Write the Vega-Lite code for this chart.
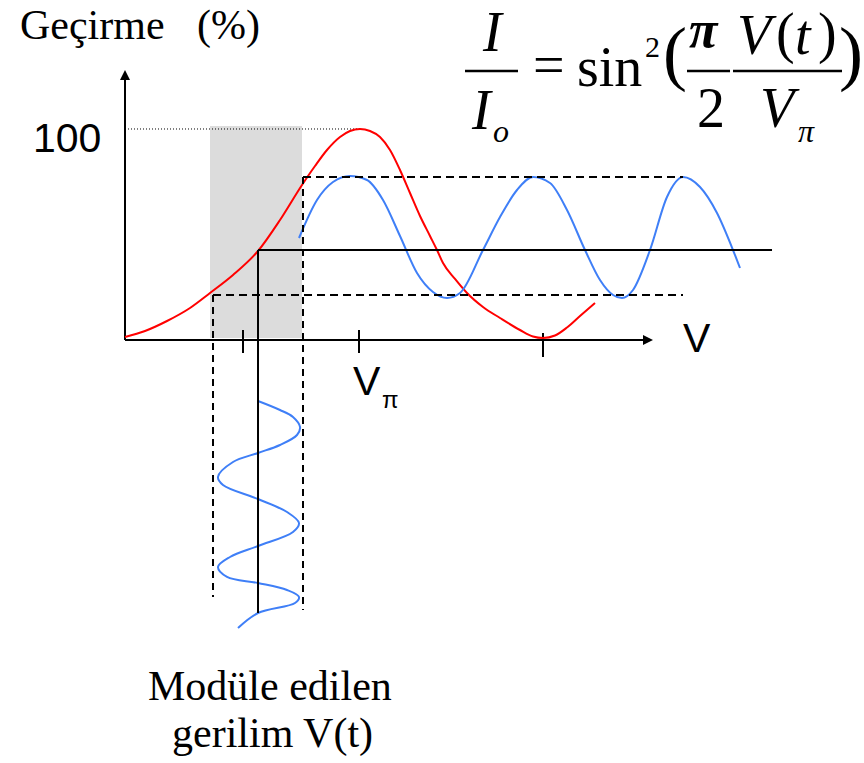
{
  "$schema": "https://vega.github.io/schema/vega-lite/v6.json",
  "width": 864,
  "height": 763,
  "autosize": {"type": "none"},
  "padding": 0,
  "background": "white",
  "config": {"view": {"stroke": null}},
  "datasets": {
    "transfer": [
      {"v": 0, "t": 1.42}, {"v": 0.855, "t": 4.27}, {"v": 1.795, "t": 9.0}, {"v": 2.778, "t": 15.17},
      {"v": 3.632, "t": 22.27}, {"v": 4.615, "t": 30.81}, {"v": 5.684, "t": 42.18}, {"v": 6.624, "t": 56.87},
      {"v": 7.564, "t": 73.46}, {"v": 8.12, "t": 82.46}, {"v": 8.632, "t": 90.05}, {"v": 9.188, "t": 96.21},
      {"v": 9.615, "t": 99.05}, {"v": 10.043, "t": 100}, {"v": 10.47, "t": 99.05}, {"v": 10.897, "t": 96.21},
      {"v": 11.325, "t": 90.05}, {"v": 11.752, "t": 80.57}, {"v": 12.179, "t": 69.67}, {"v": 12.607, "t": 58.77},
      {"v": 13.034, "t": 49.29}, {"v": 13.333, "t": 42.65}, {"v": 13.59, "t": 36.49}, {"v": 14.103, "t": 28.91},
      {"v": 14.615, "t": 22.27}, {"v": 15.299, "t": 15.64}, {"v": 16.026, "t": 10.43}, {"v": 16.88, "t": 4.74},
      {"v": 17.436, "t": 1.66}, {"v": 17.863, "t": 0.95}, {"v": 18.376, "t": 2.13}, {"v": 18.889, "t": 5.92},
      {"v": 19.444, "t": 11.37}, {"v": 20.085, "t": 17.54}
    ],
    "output": [
      {"v": 7.436, "t": 48.34}, {"v": 8.205, "t": 66.35}, {"v": 8.889, "t": 74.88}, {"v": 9.615, "t": 77.73},
      {"v": 10.342, "t": 75.83}, {"v": 11.026, "t": 66.35}, {"v": 11.752, "t": 49.29}, {"v": 12.479, "t": 31.75},
      {"v": 13.162, "t": 22.75}, {"v": 13.761, "t": 19.91}, {"v": 14.316, "t": 22.27}, {"v": 15.299, "t": 42.65},
      {"v": 16.026, "t": 58.29}, {"v": 16.752, "t": 71.09}, {"v": 17.436, "t": 77.25}, {"v": 18.162, "t": 74.41},
      {"v": 18.889, "t": 61.61}, {"v": 19.658, "t": 42.65}, {"v": 20.299, "t": 28.44}, {"v": 20.855, "t": 21.33},
      {"v": 21.239, "t": 19.91}, {"v": 21.709, "t": 23.7}, {"v": 22.436, "t": 42.65}, {"v": 23.162, "t": 67.77},
      {"v": 23.846, "t": 77.25}, {"v": 24.573, "t": 72.51}, {"v": 25.299, "t": 60.19}, {"v": 25.983, "t": 42.65},
      {"v": 26.282, "t": 34.12}
    ],
    "input": [
      {"i": 1, "v": 5.684, "t": -28.91}, {"i": 2, "v": 6.624, "t": -33.18}, {"i": 3, "v": 7.179, "t": -36.49},
      {"i": 4, "v": 7.479, "t": -41.23}, {"i": 5, "v": 7.35, "t": -45.02}, {"i": 6, "v": 6.624, "t": -49.76},
      {"i": 7, "v": 5.684, "t": -53.55}, {"i": 8, "v": 4.615, "t": -57.82}, {"i": 9, "v": 3.974, "t": -64.93},
      {"i": 10, "v": 4.188, "t": -68.72}, {"i": 11, "v": 5.684, "t": -75.36}, {"i": 12, "v": 6.923, "t": -81.52},
      {"i": 13, "v": 7.436, "t": -86.73}, {"i": 14, "v": 7.179, "t": -91.0}, {"i": 15, "v": 5.684, "t": -97.63},
      {"i": 16, "v": 4.487, "t": -102.84}, {"i": 17, "v": 3.974, "t": -107.58}, {"i": 18, "v": 4.359, "t": -112.32},
      {"i": 19, "v": 5.684, "t": -115.17}, {"i": 20, "v": 6.923, "t": -118.48}, {"i": 21, "v": 7.436, "t": -121.8},
      {"i": 22, "v": 7.265, "t": -124.64}, {"i": 23, "v": 5.684, "t": -129.38}, {"i": 24, "v": 4.829, "t": -136.49}
    ]
  },
  "encoding": {
    "x": {"field": "v", "type": "quantitative", "scale": {"domain": [-5.342, 31.581], "nice": false, "zero": false}, "axis": null},
    "y": {"field": "t", "type": "quantitative", "scale": {"domain": [-200.474, 161.137], "nice": false, "zero": false}, "axis": null}
  },
  "layer": [
    {
      "data": {"values": [{"v": 3.632, "v2": 7.564, "t": 101.42, "t2": 0.95}]},
      "mark": {"type": "rect", "color": "#dcdcdc"},
      "encoding": {"x2": {"field": "v2"}, "y2": {"field": "t2"}}
    },
    {
      "data": {"values": [{"v": 0, "t": 100, "v2": 10.043, "t2": 100}]},
      "mark": {"type": "rule", "color": "black", "strokeWidth": 1, "strokeDash": [1, 2]},
      "encoding": {"x2": {"field": "v2"}, "y2": {"field": "t2"}}
    },
    {
      "data": {"values": [
        {"v": 0, "t": 0, "v2": 0, "t2": 123.22},
        {"v": 0, "t": 0, "v2": 22.137, "t2": 0},
        {"v": 5.043, "t": 4.74, "v2": 5.043, "t2": -6.16},
        {"v": 10.0, "t": 4.74, "v2": 10.0, "t2": -6.16},
        {"v": 17.863, "t": 3.32, "v2": 17.863, "t2": -8.06}
      ]},
      "mark": {"type": "rule", "color": "black", "strokeWidth": 2},
      "encoding": {"x2": {"field": "v2"}, "y2": {"field": "t2"}}
    },
    {
      "data": {"values": [{"v": 0, "t": 125.59}]},
      "mark": {"type": "point", "shape": "M0,-1L1,1L-1,1Z", "filled": true, "color": "black", "opacity": 1, "size": 100, "strokeWidth": 0}
    },
    {
      "data": {"values": [{"v": 22.35, "t": 0}]},
      "mark": {"type": "point", "shape": "M1,0L-1,-1L-1,1Z", "filled": true, "color": "black", "opacity": 1, "size": 100, "strokeWidth": 0}
    },
    {
      "data": {"name": "transfer"},
      "mark": {"type": "line", "color": "#ff0000", "strokeWidth": 2, "interpolate": "monotone"}
    },
    {
      "data": {"name": "output"},
      "mark": {"type": "line", "color": "#3f7ff7", "strokeWidth": 2, "interpolate": "monotone"}
    },
    {
      "data": {"name": "input"},
      "mark": {"type": "line", "color": "#3f7ff7", "strokeWidth": 2, "interpolate": "catmull-rom"},
      "encoding": {"order": {"field": "i", "type": "quantitative"}}
    },
    {
      "data": {"values": [
        {"v": 7.607, "t": 77.25, "v2": 23.846, "t2": 77.25},
        {"v": 3.761, "t": 21.33, "v2": 23.846, "t2": 21.33}
      ]},
      "mark": {"type": "rule", "color": "black", "strokeWidth": 2, "strokeDash": [8, 5]},
      "encoding": {"x2": {"field": "v2"}, "y2": {"field": "t2"}}
    },
    {
      "data": {"values": [
        {"v": 3.761, "t": 21.33, "v2": 3.761, "t2": -121.8},
        {"v": 7.607, "t": 77.25, "v2": 7.607, "t2": -127.96}
      ]},
      "mark": {"type": "rule", "color": "black", "strokeWidth": 2, "strokeDash": [7, 5]},
      "encoding": {"x2": {"field": "v2"}, "y2": {"field": "t2"}}
    },
    {
      "data": {"values": [
        {"v": 5.684, "t": 42.65, "v2": 27.65, "t2": 42.65},
        {"v": 5.684, "t": 42.65, "v2": 5.684, "t2": -129.38}
      ]},
      "mark": {"type": "rule", "color": "black", "strokeWidth": 2},
      "encoding": {"x2": {"field": "v2"}, "y2": {"field": "t2"}}
    },
    {
      "data": {"values": [
        {"label": "Geçirme", "v": -4.487, "t": 142.65},
        {"label": "(%)", "v": 3.077, "t": 142.65},
        {"label": "Modüle edilen", "v": 0.983, "t": -170.62},
        {"label": "gerilim V(t)", "v": 2.009, "t": -192.89}
      ]},
      "mark": {"type": "text", "font": "Liberation Serif", "fontSize": 42, "align": "left", "baseline": "alphabetic", "color": "black"},
      "encoding": {"text": {"field": "label"}}
    },
    {
      "data": {"values": [
        {"label": "100", "v": -3.932, "t": 89.1},
        {"label": "V", "v": 23.846, "t": -5.69},
        {"label": "V", "v": 9.744, "t": -26.07}
      ]},
      "mark": {"type": "text", "font": "Liberation Sans", "fontSize": 41, "align": "left", "baseline": "alphabetic", "color": "black"},
      "encoding": {"text": {"field": "label"}}
    },
    {
      "data": {"values": [{"label": "π", "v": 10.983, "t": -32.23}]},
      "mark": {"type": "text", "font": "Liberation Sans", "fontSize": 24, "align": "left", "baseline": "alphabetic", "color": "black"},
      "encoding": {"text": {"field": "label"}}
    },
    {
      "data": {"values": [
        {"label": "I", "v": 15.299, "t": 136.96},
        {"label": "I", "v": 14.829, "t": 100.0},
        {"label": "V", "v": 26.154, "t": 135.54},
        {"label": "t", "v": 28.632, "t": 135.54},
        {"label": "V", "v": 27.137, "t": 100.94}
      ]},
      "mark": {"type": "text", "font": "Liberation Serif", "fontSize": 56, "fontStyle": "italic", "align": "left", "baseline": "alphabetic", "color": "black"},
      "encoding": {"text": {"field": "label"}}
    },
    {
      "data": {"values": [
        {"label": "=", "v": 17.436, "t": 121.32},
        {"label": "sin", "v": 19.316, "t": 120.37},
        {"label": "2", "v": 24.444, "t": 100.94},
        {"label": "(", "v": 27.821, "t": 136.49},
        {"label": ")", "v": 29.615, "t": 136.49}
      ]},
      "mark": {"type": "text", "font": "Liberation Serif", "fontSize": 56, "align": "left", "baseline": "alphabetic", "color": "black"},
      "encoding": {"text": {"field": "label"}}
    },
    {
      "data": {"values": [{"label": "2", "v": 22.222, "t": 134.12}]},
      "mark": {"type": "text", "font": "Liberation Serif", "fontSize": 30, "align": "left", "baseline": "alphabetic", "color": "black"},
      "encoding": {"text": {"field": "label"}}
    },
    {
      "data": {"values": [{"label": "(", "v": 22.991, "t": 124.64}]},
      "mark": {"type": "text", "font": "Liberation Serif", "fontSize": 72, "align": "left", "baseline": "alphabetic", "color": "black"},
      "encoding": {"text": {"field": "label"}}
    },
    {
      "data": {"values": [{"label": ")", "v": 31.538, "t": 124.64}]},
      "mark": {"type": "text", "font": "Liberation Serif", "fontSize": 72, "align": "right", "baseline": "alphabetic", "color": "black"},
      "encoding": {"text": {"field": "label"}}
    },
    {
      "data": {"values": [{"label": "π", "v": 24.1, "t": 138.86}]},
      "mark": {"type": "text", "font": "Liberation Serif", "fontSize": 52, "fontStyle": "italic", "fontWeight": "bold", "align": "left", "baseline": "alphabetic", "color": "black"},
      "encoding": {"text": {"field": "label"}}
    },
    {
      "data": {"values": [
        {"label": "o", "v": 15.726, "t": 93.83},
        {"label": "π", "v": 28.761, "t": 93.83}
      ]},
      "mark": {"type": "text", "font": "Liberation Serif", "fontSize": 32, "fontStyle": "italic", "align": "left", "baseline": "alphabetic", "color": "black"},
      "encoding": {"text": {"field": "label"}}
    },
    {
      "data": {"values": [
        {"v": 14.53, "t": 127.48, "v2": 16.795, "t2": 127.48},
        {"v": 24.017, "t": 127.48, "v2": 25.855, "t2": 127.48},
        {"v": 25.983, "t": 127.48, "v2": 30.641, "t2": 127.48}
      ]},
      "mark": {"type": "rule", "color": "black", "strokeWidth": 2.5},
      "encoding": {"x2": {"field": "v2"}, "y2": {"field": "t2"}}
    }
  ]
}
